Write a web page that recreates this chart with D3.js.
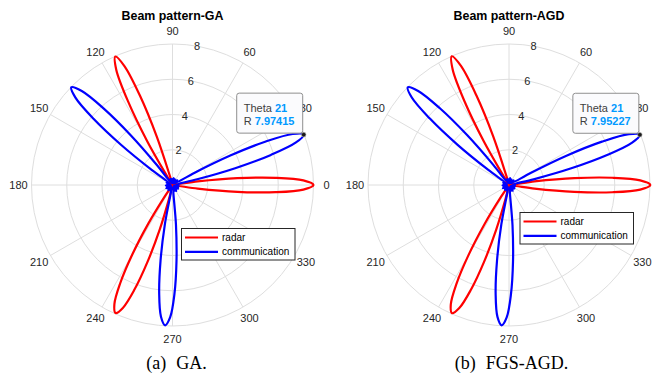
<!DOCTYPE html>
<html>
<head>
<meta charset="utf-8">
<script src="https://cdn.jsdelivr.net/npm/d3@7"></script>
<style>
  html, body { margin: 0; padding: 0; background: #fff; }
  svg { display: block; }
</style>
</head>
<body>
<svg id="chart" width="659" height="377"></svg>
<script>
// ---------------- data ----------------
const angleTicks = [0, 30, 60, 90, 120, 150, 180, 210, 240, 270, 300, 330];
const rTicks = [2, 4, 6, 8];
const titles = ["Beam pattern-GA", "Beam pattern-AGD"];
const captionLabels = ["(a)", "(b)"];
const captionTexts = ["GA.", "FGS-AGD."];
const seriesNames = ["radar", "communication"];

const radarTheta = [0,2,4,6,8,10,12,
  18,24,30,36,42,48,54,60,66,72,78,84,90,96,
  102,104,106,108,110,112,114,116,118,120,122,124,126,
  132,138,144,150,156,162,168,174,180,186,192,198,204,210,216,222,228,
  232,234,236,238,240,242,244,246,248,250,252,254,256,258,260,
  266,272,278,284,290,296,302,308,314,320,326,332,338,343,
  348,350,352,354,356,358];

const radarGA = [8.00,7.43,5.86,3.70,1.44,0.25,0.28,
  0.12,0.22,0.08,0.20,0.10,0.18,0.06,0.15,0.10,0.20,0.08,0.22,0.12,0.26,
  0.30,0.20,0.50,2.87,5.37,7.28,7.98,7.28,5.37,2.87,0.50,0.20,0.30,
  0.12,0.20,0.08,0.18,0.10,0.15,0.06,0.18,0.10,0.20,0.08,0.16,0.10,0.20,0.08,0.22,0.12,
  0.30,0.15,0.78,2.62,4.59,6.33,7.52,7.95,7.52,6.33,4.59,2.62,0.78,0.15,0.30,
  0.12,0.20,0.08,0.18,0.10,0.20,0.06,0.16,0.10,0.20,0.08,0.22,0.12,0.20,
  0.28,0.25,1.44,3.70,5.86,7.43];

const radarAGD = [8.02,7.45,5.88,3.72,1.46,0.26,0.27,
  0.14,0.20,0.09,0.21,0.10,0.17,0.07,0.16,0.10,0.19,0.09,0.21,0.13,0.25,
  0.29,0.21,0.52,2.90,5.40,7.30,7.99,7.29,5.38,2.88,0.51,0.20,0.29,
  0.13,0.19,0.09,0.17,0.11,0.16,0.07,0.17,0.11,0.19,0.09,0.17,0.11,0.19,0.09,0.21,0.13,
  0.29,0.16,0.80,2.64,4.61,6.35,7.53,7.96,7.53,6.34,4.60,2.63,0.79,0.16,0.29,
  0.13,0.19,0.09,0.17,0.11,0.19,0.07,0.17,0.11,0.19,0.09,0.21,0.13,0.19,
  0.27,0.26,1.46,3.72,5.88,7.45];

const commTheta = [3,
  9,11,13,15,17,19,21,23,25,27,29,31,33,
  39,45,51,57,63,69,75,81,87,93,99,105,111,117,
  124,126,128,130,132,134,136,138,140,142,144,146,148,
  154,160,166,172,178,184,190,196,202,208,214,220,226,232,238,244,249,
  255,257,259,261,263,265,267,269,271,273,275,277,279,
  285,291,297,303,309,315,321,327,333,339,345,351,357];

const commGA = [0.30,
  0.35,0.30,1.44,3.68,5.84,7.41,7.97415,7.41,5.84,3.68,1.44,0.30,0.35,
  0.15,0.38,0.20,0.32,0.10,0.35,0.22,0.40,0.15,0.33,0.20,0.36,0.12,0.30,
  0.35,0.30,1.44,3.69,5.85,7.41,7.98,7.41,5.85,3.69,1.44,0.30,0.35,
  0.18,0.36,0.12,0.30,0.22,0.38,0.10,0.34,0.20,0.40,0.15,0.32,0.24,0.37,0.12,0.30,0.20,
  0.35,0.40,2.26,4.33,6.20,7.50,7.97,7.50,6.20,4.33,2.26,0.40,0.35,
  0.15,0.35,0.22,0.40,0.12,0.32,0.20,0.38,0.10,0.34,0.24,0.36,0.18];

const commAGD = [0.31,
  0.34,0.31,1.43,3.66,5.82,7.39,7.95227,7.39,5.82,3.66,1.43,0.31,0.34,
  0.16,0.37,0.21,0.31,0.11,0.34,0.23,0.39,0.16,0.32,0.21,0.35,0.13,0.31,
  0.34,0.31,1.45,3.70,5.86,7.42,7.98,7.42,5.86,3.70,1.45,0.31,0.34,
  0.19,0.35,0.13,0.31,0.23,0.37,0.11,0.33,0.21,0.39,0.16,0.31,0.25,0.36,0.13,0.31,0.21,
  0.34,0.41,2.28,4.35,6.22,7.51,7.97,7.51,6.22,4.35,2.28,0.41,0.34,
  0.16,0.34,0.23,0.39,0.13,0.31,0.21,0.37,0.11,0.33,0.25,0.35,0.19];

const tipTheta = [21, 21];
const tipR = [7.97415, 7.95227];

// ---------------- layout ----------------
const panels = [
  { cx: 172.5, cy: 185, capX: 176.5, legX: 181.5, legY: 228.5,
    radar: radarGA, comm: commGA },
  { cx: 509, cy: 185, capX: 511.5, legX: 520, legY: 212.5,
    radar: radarAGD, comm: commAGD }
];
const R = 141;
const sans = "'Liberation Sans', Arial, Helvetica, sans-serif";
const serif = "'Liberation Serif', 'Times New Roman', serif";

const rScale = d3.scaleLinear().domain([0, 8]).range([0, R]);
const aScale = d3.scaleLinear().domain([0, 360]).range([Math.PI / 2, Math.PI / 2 - 2 * Math.PI]);
const colors = d3.scaleOrdinal().domain(seriesNames).range(["#ff0000", "#0000ff"]);

const svg = d3.select("#chart");

function px(theta, r) { return r * Math.sin(aScale(theta)); }
function py(theta, r) { return -r * Math.cos(aScale(theta)); }

panels.forEach((p, i) => {
  const g = svg.append("g").attr("transform", `translate(${p.cx},${p.cy})`);

  // grid rings
  g.selectAll("circle.ring").data(rTicks).join("circle")
    .attr("r", d => rScale(d))
    .attr("fill", "none").attr("stroke", "#dedede").attr("stroke-width", 1);
  // spokes
  g.selectAll("line.spoke").data(angleTicks).join("line")
    .attr("x1", 0).attr("y1", 0)
    .attr("x2", d => px(d, R)).attr("y2", d => py(d, R))
    .attr("stroke", "#dedede").attr("stroke-width", 1);

  // angle labels
  g.selectAll("text.alab").data(angleTicks).join("text")
    .attr("x", d => px(d, 154)).attr("y", d => py(d, 154))
    .attr("text-anchor", "middle").attr("dominant-baseline", "central")
    .attr("font-family", sans).attr("font-size", 11).attr("fill", "#262626")
    .text(d => d);

  // r labels at 80 degrees
  g.selectAll("text.rlab").data(rTicks).join("text")
    .attr("x", d => px(80, rScale(d))).attr("y", d => py(80, rScale(d)))
    .attr("text-anchor", "middle").attr("dominant-baseline", "central")
    .attr("font-family", sans).attr("font-size", 11).attr("fill", "#262626")
    .text(d => d);

  // series
  const line = d3.lineRadial()
    .angle(d => aScale(d[0]))
    .radius(d => rScale(d[1]))
    .curve(d3.curveCatmullRomClosed.alpha(0.5));

  const series = [
    { name: "radar", pts: radarTheta.map((t, k) => [t, p.radar[k]]) },
    { name: "communication", pts: commTheta.map((t, k) => [t, p.comm[k]]) }
  ];
  g.selectAll("path.series").data(series).join("path")
    .attr("d", d => line(d.pts))
    .attr("fill", "none")
    .attr("stroke", d => colors(d.name))
    .attr("stroke-width", 2.2)
    .attr("stroke-linejoin", "round");

  // title
  svg.append("text")
    .attr("x", p.cx).attr("y", 19.5)
    .attr("text-anchor", "middle")
    .attr("font-family", sans).attr("font-size", 12.4).attr("font-weight", "bold")
    .attr("fill", "#000")
    .text(titles[i]);

  // legend
  const lg = svg.append("g").attr("transform", `translate(${p.legX},${p.legY})`);
  lg.append("rect").attr("width", 113.5).attr("height", 31.5)
    .attr("fill", "#fff").attr("stroke", "#262626").attr("stroke-width", 1);
  seriesNames.forEach((n, k) => {
    const yy = 9 + k * 14.4;
    lg.append("line").attr("x1", 3.5).attr("x2", 36.5).attr("y1", yy).attr("y2", yy)
      .attr("stroke", colors(n)).attr("stroke-width", 2.2);
    lg.append("text").attr("x", 40.5).attr("y", yy).attr("dominant-baseline", "central")
      .attr("font-family", sans).attr("font-size", 10).attr("fill", "#000").text(n);
  });

  // data tip
  const mx = p.cx + px(tipTheta[i], rScale(tipR[i]));
  const my = p.cy + py(tipTheta[i], rScale(tipR[i]));
  const bx = mx - 67, by = my - 41.5;
  const tg = svg.append("g").attr("transform", `translate(${bx},${by})`);
  tg.append("rect").attr("width", 66).attr("height", 40).attr("rx", 2.5)
    .attr("fill", "#fbfbfd").attr("stroke", "#8f8f8f").attr("stroke-width", 1);
  const t1 = tg.append("text").attr("x", 7).attr("y", 18.5)
    .attr("font-family", sans).attr("font-size", 11);
  t1.append("tspan").attr("fill", "#404040").text("Theta ");
  t1.append("tspan").attr("fill", "#0099ff").attr("font-weight", "bold").text(tipTheta[i]);
  const t2 = tg.append("text").attr("x", 7).attr("y", 32)
    .attr("font-family", sans).attr("font-size", 11);
  t2.append("tspan").attr("fill", "#404040").text("R ");
  t2.append("tspan").attr("fill", "#0099ff").attr("font-weight", "bold").text(tipR[i]);
  svg.append("circle").attr("cx", mx).attr("cy", my).attr("r", 2.3)
    .attr("fill", "#1a1a1a").attr("stroke", "#bbbbbb").attr("stroke-width", 0.6);

  // caption
  const cap = svg.append("text")
    .attr("x", p.capX).attr("y", 369)
    .attr("text-anchor", "middle")
    .attr("font-family", serif).attr("font-size", 18).attr("fill", "#000");
  cap.append("tspan").text(captionLabels[i]);
  cap.append("tspan").attr("dx", 10).text(captionTexts[i]);
});
</script>
</body>
</html>
